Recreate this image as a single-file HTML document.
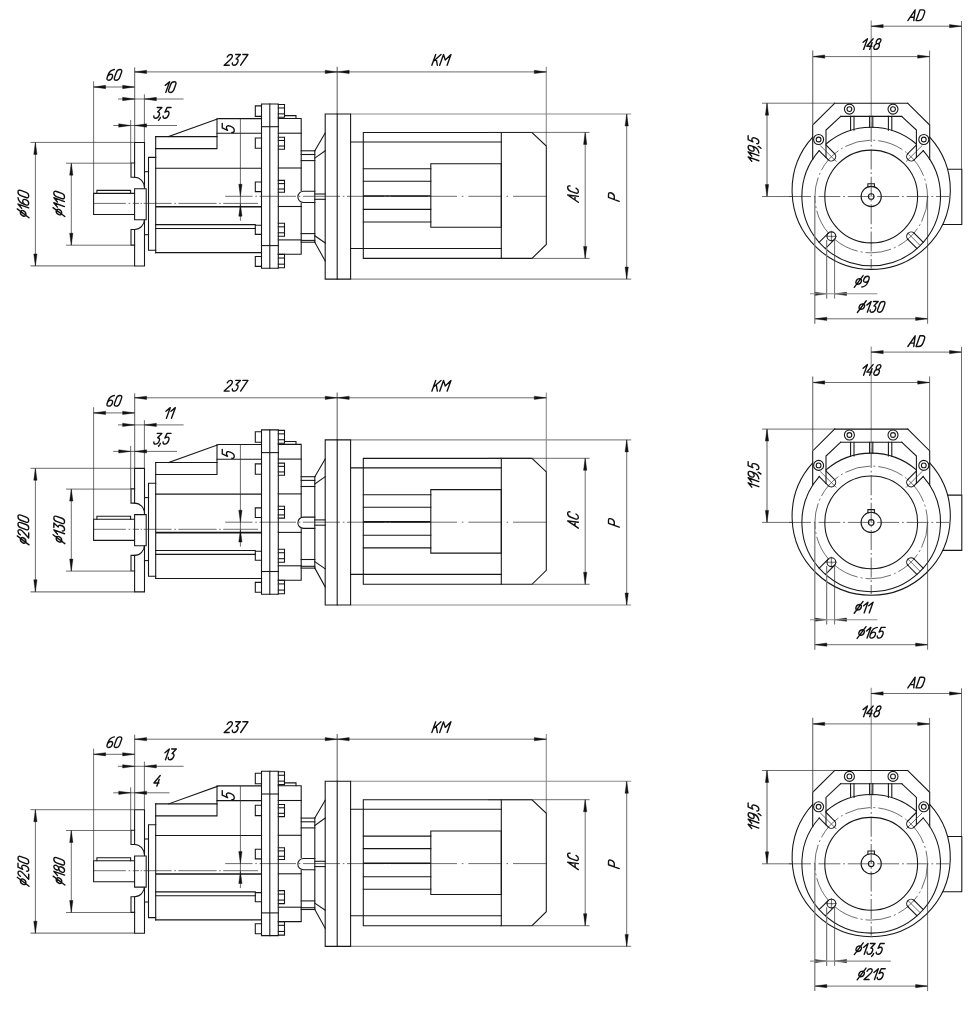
<!DOCTYPE html>
<html><head><meta charset="utf-8"><title>drawing</title>
<style>
html,body{margin:0;padding:0;background:#fff;}
body{width:979px;height:1010px;overflow:hidden;font-family:"Liberation Sans",sans-serif;}
svg{display:block}
.k{fill:none;stroke:#161616;stroke-width:1.08;stroke-linecap:square}
.kk{fill:none;stroke:#161616;stroke-width:1.6}
.kf{fill:#fff;stroke:#161616;stroke-width:1.08}
.t{fill:none;stroke:#2e2e2e;stroke-width:.7}
.g{fill:none;stroke:#7a7a7a;stroke-width:1.25}
.c{fill:none;stroke:#2e2e2e;stroke-width:.7;stroke-dasharray:22 2.8 1.8 2.8}
.cg{fill:none;stroke:#707070;stroke-width:1.1;stroke-dasharray:20 2.8 1.8 2.8}
.g3{fill:none;stroke:#8c8c8c;stroke-width:1.1}
.g2{fill:none;stroke:#8a8a8a;stroke-width:1.1}
.cd{fill:none;stroke:#2e2e2e;stroke-width:.7;stroke-dasharray:26 3 2 3}
.a{fill:#111;stroke:#111;stroke-width:.4}
.ph{fill:none;stroke:#111;stroke-width:1}
.tx path{fill:none;stroke:#101010;stroke-width:1.38;vector-effect:non-scaling-stroke;stroke-linecap:round;stroke-linejoin:round}
</style></head><body>
<svg width="979" height="1010" viewBox="0 0 979 1010">
<rect width="979" height="1010" fill="#fff"/>

<g transform="translate(0,0)">
<path class="g" d="M337.20,66.70L337.20,114.00"/>
<path class="g" d="M134.60,67.40L134.60,142.50"/>
<path class="g3" d="M546.30,66.70L546.30,146.00"/>
<path class="g" d="M30.50,265.90L134.60,265.90"/>
<path class="g3" d="M350.60,114.00L631.20,114.00"/>
<path class="g3" d="M350.60,279.10L631.20,279.10"/>
<path class="k" d="M134.6,193.4H93.6V214.5H134.6"/>
<path class="k" d="M96.9,193.4V190.4H130.6V193.4"/>
<path class="k" d="M134.6,177.2V142.5H144.5V266H134.6V229.5"/>
<path class="k" d="M134.6,163H131V177.2H134.6A10,10.6 0 0 1 144.5,187.8"/>
<path class="k" d="M134.6,245.1H131V229.5H134.6A10,10.6 0 0 0 144.5,218.9"/>
<path class="kf" d="M134.60,188.70H146.20V219.80H134.60Z"/>
<path class="t" d="M93.6,203.4H125.8M128.6,203.4H130.2M132.8,203.4H139M140.6,203.4H142M143.6,203.4H171.6M174.3,203.4H175.9M178.4,203.4H216.5M219.2,203.4H220.8M223.2,203.4H258"/>
<path class="t" d="M225.2,196.3H252.5M255.3,196.3H256.9M259.5,196.3H296M298.8,196.3H300.4M303,196.3H340M342.8,196.3H344.4M347,196.3H384M386.8,196.3H388.4M391,196.3H428M430.8,196.3H457M461.8,196.3H463.4M468.4,196.3H501M506.5,196.3H508.1M513,196.3H546.3"/>
<path class="k" d="M144.50,171.70L148.50,171.70"/>
<path class="k" d="M144.50,234.70L148.50,234.70"/>
<path class="k" d="M155.7,157.4H148.5V250.3H155.7"/>
<path class="k" d="M155.70,136.60L155.70,252.60"/>
<path class="k" d="M155.7,136.6H217"/>
<path class="k" d="M168.6,136.6L218.7,118.6H261.5"/>
<path class="k" d="M217,118.6V148.6H155.7"/>
<path class="k" d="M217.00,133.30L261.50,133.30"/>
<path class="k" d="M155.70,168.20L261.50,168.20"/>
<path class="kk" d="M155.70,206.70L261.50,206.70"/>
<path class="k" d="M155.70,224.60L255.30,224.60"/>
<path class="k" d="M155.70,228.50L255.30,228.50"/>
<path class="k" d="M155.70,252.60L261.50,252.60"/>
<path class="k" d="M261.50,104.00H278.30V268.30H261.50Z"/>
<path class="k" d="M269.80,104.00L269.80,268.30"/>
<path class="k" d="M261.50,126.70L278.30,126.70"/>
<path class="k" d="M261.50,245.60L278.30,245.60"/>
<path class="k" d="M261.5,105.9H255.3V116.4H261.5"/>
<path class="k" d="M261.5,138H255.3V148.3H261.5"/>
<path class="k" d="M261.5,182H255.3V191.6H261.5"/>
<path class="k" d="M261.5,225.3H255.3V234.4H261.5"/>
<path class="k" d="M261.5,256.5H255.3V266.4H261.5"/>
<path class="k" d="M278.3,104.5H284.5V117.3H278.3"/>
<path class="k" d="M278.30,107.96L284.50,107.96"/>
<path class="k" d="M278.30,113.84L284.50,113.84"/>
<path class="k" d="M278.3,137.2H284.5V149.3H278.3"/>
<path class="k" d="M278.30,140.47L284.50,140.47"/>
<path class="k" d="M278.30,146.03L284.50,146.03"/>
<path class="k" d="M278.3,180.4H284.5V192.2H278.3"/>
<path class="k" d="M278.30,183.59L284.50,183.59"/>
<path class="k" d="M278.30,189.01L284.50,189.01"/>
<path class="k" d="M278.3,223.3H284.5V236.3H278.3"/>
<path class="k" d="M278.30,226.81L284.50,226.81"/>
<path class="k" d="M278.30,232.79L284.50,232.79"/>
<path class="k" d="M278.3,254.4H284.5V267.8H278.3"/>
<path class="k" d="M278.30,258.02L284.50,258.02"/>
<path class="k" d="M278.30,264.18L284.50,264.18"/>
<path class="k" d="M278.3,118.5H301.2V190.5"/>
<path class="k" d="M301.2,203V254.3H278.3"/>
<path class="k" d="M284.5,115.6H296V118.5"/>
<path class="k" d="M278.30,133.20L301.20,133.20"/>
<path class="k" d="M278.30,168.00L301.20,168.00"/>
<path class="k" d="M278.30,206.50L301.20,206.50"/>
<path class="k" d="M278.30,239.90L301.20,239.90"/>
<path class="k" d="M301.20,150.80L314.80,150.80"/>
<path class="k" d="M301.20,154.50L314.80,154.50"/>
<path class="k" d="M301.20,160.60L314.80,160.60"/>
<path class="k" d="M301.20,233.60L314.80,233.60"/>
<path class="k" d="M301.20,240.40L314.80,240.40"/>
<path class="k" d="M301.20,242.20L314.80,242.20"/>
<path class="k" d="M314.80,150.80L314.80,242.20"/>
<path class="k" d="M314.8,191.2H303.5A5.65,5.65 0 0 0 303.5,202.5H314.8"/>
<path class="k" d="M314.80,194.00L325.20,194.00"/>
<path class="k" d="M314.80,199.30L325.20,199.30"/>
<path class="k" d="M314.80,150.80L325.20,133.00"/>
<path class="k" d="M314.80,158.10L325.20,150.80"/>
<path class="k" d="M314.80,242.20L325.20,261.00"/>
<path class="k" d="M314.80,235.80L325.20,242.90"/>
<path class="k" d="M325.20,114.00H350.60V279.10H325.20Z"/>
<path class="k" d="M337.20,114.00L337.20,279.10"/>
<path class="k" d="M350.60,142.00L501.30,142.00"/>
<path class="k" d="M350.60,248.50L501.30,248.50"/>
<path class="k" d="M363.30,132.50H501.30V258.40H363.30Z"/>
<path class="k" d="M430.80,163.70H501.30V227.20H430.80Z"/>
<path class="k" d="M363.30,168.80L430.80,168.80"/>
<path class="k" d="M363.30,181.30L430.80,181.30"/>
<path class="k" d="M363.30,209.40L430.80,209.40"/>
<path class="k" d="M363.30,222.00L430.80,222.00"/>
<path class="kk" d="M363.30,196.00L430.80,196.00"/>
<path class="k" d="M501.3,132.5H532L546.3,146V244.4L532,258.4H501.3"/>
<path class="t" d="M134.60,71.90L546.30,71.90"/>
<path class="a" d="M134.60,71.90L146.60,73.55L146.60,70.25Z"/>
<path class="a" d="M337.20,71.90L325.20,70.25L325.20,73.55Z"/>
<path class="a" d="M337.20,71.90L349.20,73.55L349.20,70.25Z"/>
<path class="a" d="M546.30,71.90L534.30,70.25L534.30,73.55Z"/>
<path class="t" d="M93.60,87.00L134.60,87.00"/>
<path class="a" d="M93.60,87.00L105.60,88.65L105.60,85.35Z"/>
<path class="a" d="M134.60,87.00L122.60,85.35L122.60,88.65Z"/>
<path class="t" d="M93.60,81.30L93.60,193.40"/>
<path class="t" d="M118.00,99.00L183.60,99.00"/>
<path class="a" d="M134.60,99.00L122.60,97.35L122.60,100.65Z"/>
<path class="a" d="M144.40,99.00L156.40,100.65L156.40,97.35Z"/>
<path class="t" d="M144.40,94.30L144.40,142.50"/>
<path class="t" d="M35.40,142.40L35.40,265.90"/>
<path class="a" d="M35.40,142.40L33.75,154.40L37.05,154.40Z"/>
<path class="a" d="M35.40,265.90L37.05,253.90L33.75,253.90Z"/>
<path class="t" d="M30.50,142.40L134.60,142.40"/>
<path class="t" d="M71.30,163.20L71.30,245.20"/>
<path class="a" d="M71.30,163.20L69.65,175.20L72.95,175.20Z"/>
<path class="a" d="M71.30,245.20L72.95,233.20L69.65,233.20Z"/>
<path class="t" d="M66.00,163.20L130.80,163.20"/>
<path class="t" d="M66.00,245.20L130.80,245.20"/>
<path class="t" d="M240.40,118.60L240.40,220.80"/>
<path class="a" d="M240.40,196.30L242.05,184.30L238.75,184.30Z"/>
<path class="a" d="M240.40,204.20L238.75,216.20L242.05,216.20Z"/>
<path class="t" d="M585.20,132.40L585.20,258.40"/>
<path class="a" d="M585.20,132.40L583.55,144.40L586.85,144.40Z"/>
<path class="a" d="M585.20,258.40L586.85,246.40L583.55,246.40Z"/>
<path class="t" d="M488.00,132.40L589.60,132.40"/>
<path class="t" d="M532.00,258.40L589.60,258.40"/>
<path class="t" d="M626.70,114.00L626.70,279.10"/>
<path class="a" d="M626.70,114.00L625.05,126.00L628.35,126.00Z"/>
<path class="a" d="M626.70,279.10L628.35,267.10L625.05,267.10Z"/>
<path class="k" d="M940,169.2H961.8V224.5H940"/>
<circle cx="871.2" cy="190.3" r="79.1" fill="#fff" stroke="none"/>
<path class="k" d="M812.70,137.06A79.1,79.1 0 1 0 929.70,137.06"/>
<path class="g2" d="M871.20,20.50L871.20,122.00"/>
<path class="cg" d="M871.20,122.00L871.20,268.50"/>
<path class="t" d="M762.00,196.50L792.00,196.50"/>
<path class="c" d="M789.00,196.50L949.00,196.50"/>
<path class="k" d="M826.00,143.97A69.3,69.3 0 0 1 916.40,143.97"/>
<path class="k" d="M834.50,153.58L826.00,145.08"/>
<path class="k" d="M828.28,159.80L819.19,150.71"/>
<path class="k" d="M834.50,153.58A4.4,4.4 0 0 1 828.28,159.80"/>
<path class="t" d="M836.34,161.64L820.08,145.38"/>
<path class="k" d="M826.00,157.52V130.1L840.60,116.4"/>
<path class="k" d="M812.70,159.35V125L834.70,103.2"/>
<circle class="kf" cx="849.40" cy="109.10" r="5.00"/>
<circle class="k" cx="849.40" cy="109.10" r="2.40"/>
<circle class="kf" cx="818.60" cy="139.50" r="5.00"/>
<circle class="k" cx="818.60" cy="139.50" r="2.40"/>
<path class="k" d="M850.60,116.40L850.60,130.13"/>
<path class="k" d="M854.00,116.40L854.00,130.13"/>
<path class="k" d="M907.90,153.58L916.40,145.08"/>
<path class="k" d="M914.12,159.80L923.21,150.71"/>
<path class="k" d="M907.90,153.58A4.4,4.4 0 0 0 914.12,159.80"/>
<path class="t" d="M906.06,161.64L922.32,145.38"/>
<path class="k" d="M916.40,157.52V130.1L901.80,116.4"/>
<path class="k" d="M929.70,159.35V125L907.70,103.2"/>
<circle class="kf" cx="893.00" cy="109.10" r="5.00"/>
<circle class="k" cx="893.00" cy="109.10" r="2.40"/>
<circle class="kf" cx="923.80" cy="139.50" r="5.00"/>
<circle class="k" cx="923.80" cy="139.50" r="2.40"/>
<path class="k" d="M888.40,116.40L888.40,130.13"/>
<path class="k" d="M891.80,116.40L891.80,130.13"/>
<path class="k" d="M834.70,103.20L907.70,103.20"/>
<path class="k" d="M840.60,116.40L901.80,116.40"/>
<path class="k" d="M869.60,116.40L869.60,127.40"/>
<path class="k" d="M872.80,116.40L872.80,127.40"/>
<path class="k" d="M819.19,150.71A69.3,69.3 0 1 0 923.21,150.71"/>
<circle class="cd" cx="871.20" cy="196.50" r="56.30"/>
<circle class="k" cx="871.20" cy="196.50" r="46.40"/>
<path class="k" d="M867.9,187V183.7H874.4V187"/>
<circle class="k" cx="871.20" cy="196.50" r="10.10"/>
<circle class="k" cx="871.20" cy="196.50" r="2.80"/>
<path class="k" d="M834.50,239.42L825.41,248.51"/>
<path class="k" d="M828.28,233.20L819.19,242.29"/>
<circle class="k" cx="831.39" cy="236.31" r="4.40"/>
<path class="t" d="M825.89,236.31L836.89,236.31"/>
<path class="t" d="M831.39,230.81L831.39,241.81"/>
<path class="k" d="M914.12,233.20L923.21,242.29"/>
<path class="k" d="M907.90,239.42L916.99,248.51"/>
<path class="k" d="M907.90,239.42A4.4,4.4 0 0 1 914.12,233.20"/>
<path class="t" d="M907.47,232.77L920.10,245.40"/>
<path class="t" d="M871.20,26.20L961.50,26.20"/>
<path class="a" d="M871.20,26.20L883.20,27.85L883.20,24.55Z"/>
<path class="a" d="M961.50,26.20L949.50,24.55L949.50,27.85Z"/>
<path class="t" d="M961.50,21.00L961.50,169.20"/>
<path class="t" d="M812.70,56.60L929.60,56.60"/>
<path class="a" d="M812.70,56.60L824.70,58.25L824.70,54.95Z"/>
<path class="a" d="M929.60,56.60L917.60,54.95L917.60,58.25Z"/>
<path class="g" d="M812.70,50.50L812.70,125.00"/>
<path class="t" d="M929.60,50.50L929.60,125.00"/>
<path class="g" d="M767.00,103.20L767.00,196.50"/>
<path class="a" d="M767.00,103.20L765.35,115.20L768.65,115.20Z"/>
<path class="a" d="M767.00,196.50L768.65,184.50L765.35,184.50Z"/>
<path class="t" d="M762.00,103.20L835.00,103.20"/>
<path class="a" d="M826.60,293.80L814.60,292.15L814.60,295.45Z"/>
<path class="a" d="M834.60,293.80L846.60,295.45L846.60,292.15Z"/>
<path class="g" d="M826.60,240.00L826.60,298.60"/>
<path class="t" d="M834.60,238.00L834.60,298.60"/>
<path class="t" d="M814.80,318.80L927.60,318.80"/>
<path class="a" d="M814.80,318.80L826.80,320.45L826.80,317.15Z"/>
<path class="a" d="M927.60,318.80L915.60,317.15L915.60,320.45Z"/>
<path class="g" d="M814.80,196.50L814.80,323.80"/>
<path class="t" d="M927.60,196.50L927.60,323.80"/>
<path class="t" d="M113.20,125.50L177.00,125.50"/>
<path class="a" d="M130.70,125.50L118.70,123.85L118.70,127.15Z"/>
<path class="a" d="M134.60,125.50L146.60,127.15L146.60,123.85Z"/>
<path class="t" d="M130.70,120.00L130.70,163.00"/>
<path class="g3" d="M810.00,293.80L877.40,293.80"/>
<g class="tx" transform="translate(236.05,59.85)"><path transform="matrix(1.0165,0,-0.3852,1.0700,-8.036,-5.350)" d="M0.1,2.3C0.3,0.8 1.2,0 2.5,0C4,0 5,0.9 5,2.4C5,3.5 4.5,4.3 3.8,5.1L0,10H5"/><path transform="matrix(1.0165,0,-0.3852,1.0700,-0.615,-5.350)" d="M0.3,0H4.9L2.3,4.1C4,4.1 5,5.2 5,7C5,8.9 4,10 2.5,10C1.1,10 0.2,9.2 0,7.9"/><path transform="matrix(1.0165,0,-0.3852,1.0700,6.805,-5.350)" d="M0,0H5L1.6,10"/></g>
<g class="tx" transform="translate(441.41,59.90)"><path transform="matrix(1.0165,0,-0.3852,1.0700,-5.698,-5.350)" d="M0,0V10M5.2,0L0,6.4M2,4L5.4,10"/><path transform="matrix(1.0165,0,-0.3852,1.0700,2.129,-5.350)" d="M0,10V0L3.65,5.2L7.3,0V10"/></g>
<g class="tx" transform="translate(114.34,74.90)"><path transform="matrix(1.0165,0,-0.3852,1.0700,-4.325,-5.350)" d="M4.3,0C1.8,0.4 0,2.2 0,4.8V7.2C0,9 0.9,10 2.5,10C4.1,10 5,9 5,7.2C5,5.4 4.1,4.4 2.5,4.4C1.3,4.4 0.4,5.1 0,6.2"/><path transform="matrix(1.0165,0,-0.3852,1.0700,3.095,-5.350)" d="M2.5,0C0.9,0 0,0.9 0,2.5V7.5C0,9.1 0.9,10 2.5,10C4.1,10 5,9.1 5,7.5V2.5C5,0.9 4.1,0 2.5,0Z"/></g>
<g class="tx" transform="translate(169.72,87.10)"><path transform="matrix(1.0165,0,-0.3852,1.0700,-3.157,-5.350)" d="M0,3.4L3,0V10"/><path transform="matrix(1.0165,0,-0.3852,1.0700,1.926,-5.350)" d="M2.5,0C0.9,0 0,0.9 0,2.5V7.5C0,9.1 0.9,10 2.5,10C4.1,10 5,9.1 5,7.5V2.5C5,0.9 4.1,0 2.5,0Z"/></g>
<g class="tx" transform="translate(162.15,112.84)"><path transform="matrix(1.0165,0,-0.3852,1.0700,-5.240,-5.350)" d="M0.3,0H4.9L2.3,4.1C4,4.1 5,5.2 5,7C5,8.9 4,10 2.5,10C1.1,10 0.2,9.2 0,7.9"/><path transform="matrix(1.0165,0,-0.3852,1.0700,0.859,-5.350)" d="M0.9,9.3V10.2L0.1,12"/><path transform="matrix(1.0165,0,-0.3852,1.0700,4.010,-5.350)" d="M4.8,0H0.9L0.4,4.4C1,3.8 1.8,3.5 2.6,3.5C4.1,3.5 5,4.8 5,6.7C5,8.7 4,10 2.5,10C1.1,10 0.2,9.2 0,8"/></g>
<g class="tx" transform="translate(228.25,128.25) rotate(-90)"><path transform="matrix(1.1385,0,-0.4314,1.1984,-0.689,-5.992)" d="M4.8,0H0.9L0.4,4.4C1,3.8 1.8,3.5 2.6,3.5C4.1,3.5 5,4.8 5,6.7C5,8.7 4,10 2.5,10C1.1,10 0.2,9.2 0,8"/></g>
<g class="tx" transform="translate(23.35,203.94) rotate(-90)"><path transform="matrix(1.0165,0,-0.3852,1.0700,-10.577,-5.350)" d="M5.55,4.8A2.6,2.6 0 1 1 0.35,4.8A2.6,2.6 0 1 1 5.55,4.8M0.65,10.3L5.25,-0.7"/><path transform="matrix(1.0165,0,-0.3852,1.0700,-3.156,-5.350)" d="M0,3.4L3,0V10"/><path transform="matrix(1.0165,0,-0.3852,1.0700,1.926,-5.350)" d="M4.3,0C1.8,0.4 0,2.2 0,4.8V7.2C0,9 0.9,10 2.5,10C4.1,10 5,9 5,7.2C5,5.4 4.1,4.4 2.5,4.4C1.3,4.4 0.4,5.1 0,6.2"/><path transform="matrix(1.0165,0,-0.3852,1.0700,9.346,-5.350)" d="M2.5,0C0.9,0 0,0.9 0,2.5V7.5C0,9.1 0.9,10 2.5,10C4.1,10 5,9.1 5,7.5V2.5C5,0.9 4.1,0 2.5,0Z"/></g>
<g class="tx" transform="translate(59.14,203.82) rotate(-90)"><path transform="matrix(1.0165,0,-0.3852,1.0700,-9.408,-5.350)" d="M5.55,4.8A2.6,2.6 0 1 1 0.35,4.8A2.6,2.6 0 1 1 5.55,4.8M0.65,10.3L5.25,-0.7"/><path transform="matrix(1.0165,0,-0.3852,1.0700,-1.988,-5.350)" d="M0,3.4L3,0V10"/><path transform="matrix(1.0165,0,-0.3852,1.0700,3.095,-5.350)" d="M0,3.4L3,0V10"/><path transform="matrix(1.0165,0,-0.3852,1.0700,8.177,-5.350)" d="M2.5,0C0.9,0 0,0.9 0,2.5V7.5C0,9.1 0.9,10 2.5,10C4.1,10 5,9.1 5,7.5V2.5C5,0.9 4.1,0 2.5,0Z"/></g>
<g class="tx" transform="translate(573.00,193.68) rotate(-90)"><path transform="matrix(1.0165,0,-0.3852,1.0700,-4.732,-5.350)" d="M0,10L3.4,0L5.8,10M1.1,6.9H5.0"/><path transform="matrix(1.0165,0,-0.3852,1.0700,3.502,-5.350)" d="M5,2.2C4.8,0.8 3.9,0 2.6,0C0.9,0 0,1.2 0,3V7C0,8.8 0.9,10 2.6,10C3.9,10 4.8,9.2 5,7.8"/></g>
<g class="tx" transform="translate(613.85,196.62) rotate(-90)"><path transform="matrix(1.0165,0,-0.3852,1.0700,-0.819,-5.350)" d="M0,10V0H3C4.6,0 5.4,1 5.4,2.7C5.4,4.4 4.6,5.4 3,5.4H0"/></g>
<g class="tx" transform="translate(916.74,15.25)"><path transform="matrix(1.0165,0,-0.3852,1.0700,-5.037,-5.350)" d="M0,10L3.4,0L5.8,10M1.1,6.9H5.0"/><path transform="matrix(1.0165,0,-0.3852,1.0700,3.197,-5.350)" d="M0,0V10H2.6C4.5,10 5.6,8.8 5.6,7V3C5.6,1.2 4.5,0 2.6,0Z"/></g>
<g class="tx" transform="translate(871.26,44.05)"><path transform="matrix(1.0165,0,-0.3852,1.0700,-6.867,-5.350)" d="M0,3.4L3,0V10"/><path transform="matrix(1.0165,0,-0.3852,1.0700,-1.784,-5.350)" d="M3.6,0L0,7H5M4,3.8V10"/><path transform="matrix(1.0165,0,-0.3852,1.0700,5.636,-5.350)" d="M2.5,4.6C1.1,4.6 0.4,3.7 0.4,2.3C0.4,0.9 1.2,0 2.5,0C3.8,0 4.6,0.9 4.6,2.3C4.6,3.7 3.9,4.6 2.5,4.6C0.9,4.6 0,5.7 0,7.3C0,8.9 0.9,10 2.5,10C4.1,10 5,8.9 5,7.3C5,5.7 4.1,4.6 2.5,4.6"/></g>
<g class="tx" transform="translate(753.49,149.64) rotate(-90)"><path transform="matrix(1.0165,0,-0.3852,1.0700,-10.323,-5.350)" d="M0,3.4L3,0V10"/><path transform="matrix(1.0165,0,-0.3852,1.0700,-5.240,-5.350)" d="M0,3.4L3,0V10"/><path transform="matrix(1.0165,0,-0.3852,1.0700,-0.158,-5.350)" d="M0.7,10C3.2,9.6 5,7.8 5,5.2V2.8C5,1 4.1,0 2.5,0C0.9,0 0,1 0,2.8C0,4.6 0.9,5.6 2.5,5.6C3.7,5.6 4.6,4.9 5,3.8"/><path transform="matrix(1.0165,0,-0.3852,1.0700,5.941,-5.350)" d="M0.9,9.3V10.2L0.1,12"/><path transform="matrix(1.0165,0,-0.3852,1.0700,9.092,-5.350)" d="M4.8,0H0.9L0.4,4.4C1,3.8 1.8,3.5 2.6,3.5C4.1,3.5 5,4.8 5,6.7C5,8.7 4,10 2.5,10C1.1,10 0.2,9.2 0,8"/></g>
<g class="tx" transform="translate(861.85,281.65)"><path transform="matrix(1.0165,0,-0.3852,1.0700,-4.325,-5.350)" d="M5.55,4.8A2.6,2.6 0 1 1 0.35,4.8A2.6,2.6 0 1 1 5.55,4.8M0.65,10.3L5.25,-0.7"/><path transform="matrix(1.0165,0,-0.3852,1.0700,3.095,-5.350)" d="M0.7,10C3.2,9.6 5,7.8 5,5.2V2.8C5,1 4.1,0 2.5,0C0.9,0 0,1 0,2.8C0,4.6 0.9,5.6 2.5,5.6C3.7,5.6 4.6,4.9 5,3.8"/></g>
<g class="tx" transform="translate(871.26,306.85)"><path transform="matrix(1.0165,0,-0.3852,1.0700,-10.577,-5.350)" d="M5.55,4.8A2.6,2.6 0 1 1 0.35,4.8A2.6,2.6 0 1 1 5.55,4.8M0.65,10.3L5.25,-0.7"/><path transform="matrix(1.0165,0,-0.3852,1.0700,-3.156,-5.350)" d="M0,3.4L3,0V10"/><path transform="matrix(1.0165,0,-0.3852,1.0700,1.926,-5.350)" d="M0.3,0H4.9L2.3,4.1C4,4.1 5,5.2 5,7C5,8.9 4,10 2.5,10C1.1,10 0.2,9.2 0,7.9"/><path transform="matrix(1.0165,0,-0.3852,1.0700,9.346,-5.350)" d="M2.5,0C0.9,0 0,0.9 0,2.5V7.5C0,9.1 0.9,10 2.5,10C4.1,10 5,9.1 5,7.5V2.5C5,0.9 4.1,0 2.5,0Z"/></g>
</g>
<g transform="translate(0,325.9)">
<path class="g" d="M337.20,66.70L337.20,114.00"/>
<path class="g" d="M134.60,67.40L134.60,142.50"/>
<path class="g3" d="M546.30,66.70L546.30,146.00"/>
<path class="g" d="M30.50,265.90L134.60,265.90"/>
<path class="g3" d="M350.60,114.00L631.20,114.00"/>
<path class="g3" d="M350.60,279.10L631.20,279.10"/>
<path class="k" d="M134.6,193.4H93.6V214.5H134.6"/>
<path class="k" d="M96.9,193.4V190.4H130.6V193.4"/>
<path class="k" d="M134.6,177.2V142.5H144.5V266H134.6V229.5"/>
<path class="k" d="M134.6,163H131V177.2H134.6A10,10.6 0 0 1 144.5,187.8"/>
<path class="k" d="M134.6,245.1H131V229.5H134.6A10,10.6 0 0 0 144.5,218.9"/>
<path class="kf" d="M134.60,188.70H146.20V219.80H134.60Z"/>
<path class="t" d="M93.6,203.4H125.8M128.6,203.4H130.2M132.8,203.4H139M140.6,203.4H142M143.6,203.4H171.6M174.3,203.4H175.9M178.4,203.4H216.5M219.2,203.4H220.8M223.2,203.4H258"/>
<path class="t" d="M225.2,196.3H252.5M255.3,196.3H256.9M259.5,196.3H296M298.8,196.3H300.4M303,196.3H340M342.8,196.3H344.4M347,196.3H384M386.8,196.3H388.4M391,196.3H428M430.8,196.3H457M461.8,196.3H463.4M468.4,196.3H501M506.5,196.3H508.1M513,196.3H546.3"/>
<path class="k" d="M144.50,171.70L148.50,171.70"/>
<path class="k" d="M144.50,234.70L148.50,234.70"/>
<path class="k" d="M155.7,157.4H148.5V250.3H155.7"/>
<path class="k" d="M155.70,136.60L155.70,252.60"/>
<path class="k" d="M155.7,136.6H217"/>
<path class="k" d="M168.6,136.6L218.7,118.6H261.5"/>
<path class="k" d="M217,118.6V148.6H155.7"/>
<path class="k" d="M217.00,133.30L261.50,133.30"/>
<path class="k" d="M155.70,168.20L261.50,168.20"/>
<path class="kk" d="M155.70,206.70L261.50,206.70"/>
<path class="k" d="M155.70,224.60L255.30,224.60"/>
<path class="k" d="M155.70,228.50L255.30,228.50"/>
<path class="k" d="M155.70,252.60L261.50,252.60"/>
<path class="k" d="M261.50,104.00H278.30V268.30H261.50Z"/>
<path class="k" d="M269.80,104.00L269.80,268.30"/>
<path class="k" d="M261.50,126.70L278.30,126.70"/>
<path class="k" d="M261.50,245.60L278.30,245.60"/>
<path class="k" d="M261.5,105.9H255.3V116.4H261.5"/>
<path class="k" d="M261.5,138H255.3V148.3H261.5"/>
<path class="k" d="M261.5,182H255.3V191.6H261.5"/>
<path class="k" d="M261.5,225.3H255.3V234.4H261.5"/>
<path class="k" d="M261.5,256.5H255.3V266.4H261.5"/>
<path class="k" d="M278.3,104.5H284.5V117.3H278.3"/>
<path class="k" d="M278.30,107.96L284.50,107.96"/>
<path class="k" d="M278.30,113.84L284.50,113.84"/>
<path class="k" d="M278.3,137.2H284.5V149.3H278.3"/>
<path class="k" d="M278.30,140.47L284.50,140.47"/>
<path class="k" d="M278.30,146.03L284.50,146.03"/>
<path class="k" d="M278.3,180.4H284.5V192.2H278.3"/>
<path class="k" d="M278.30,183.59L284.50,183.59"/>
<path class="k" d="M278.30,189.01L284.50,189.01"/>
<path class="k" d="M278.3,223.3H284.5V236.3H278.3"/>
<path class="k" d="M278.30,226.81L284.50,226.81"/>
<path class="k" d="M278.30,232.79L284.50,232.79"/>
<path class="k" d="M278.3,254.4H284.5V267.8H278.3"/>
<path class="k" d="M278.30,258.02L284.50,258.02"/>
<path class="k" d="M278.30,264.18L284.50,264.18"/>
<path class="k" d="M278.3,118.5H301.2V190.5"/>
<path class="k" d="M301.2,203V254.3H278.3"/>
<path class="k" d="M284.5,115.6H296V118.5"/>
<path class="k" d="M278.30,133.20L301.20,133.20"/>
<path class="k" d="M278.30,168.00L301.20,168.00"/>
<path class="k" d="M278.30,206.50L301.20,206.50"/>
<path class="k" d="M278.30,239.90L301.20,239.90"/>
<path class="k" d="M301.20,150.80L314.80,150.80"/>
<path class="k" d="M301.20,154.50L314.80,154.50"/>
<path class="k" d="M301.20,160.60L314.80,160.60"/>
<path class="k" d="M301.20,233.60L314.80,233.60"/>
<path class="k" d="M301.20,240.40L314.80,240.40"/>
<path class="k" d="M301.20,242.20L314.80,242.20"/>
<path class="k" d="M314.80,150.80L314.80,242.20"/>
<path class="k" d="M314.8,191.2H303.5A5.65,5.65 0 0 0 303.5,202.5H314.8"/>
<path class="k" d="M314.80,194.00L325.20,194.00"/>
<path class="k" d="M314.80,199.30L325.20,199.30"/>
<path class="k" d="M314.80,150.80L325.20,133.00"/>
<path class="k" d="M314.80,158.10L325.20,150.80"/>
<path class="k" d="M314.80,242.20L325.20,261.00"/>
<path class="k" d="M314.80,235.80L325.20,242.90"/>
<path class="k" d="M325.20,114.00H350.60V279.10H325.20Z"/>
<path class="k" d="M337.20,114.00L337.20,279.10"/>
<path class="k" d="M350.60,142.00L501.30,142.00"/>
<path class="k" d="M350.60,248.50L501.30,248.50"/>
<path class="k" d="M363.30,132.50H501.30V258.40H363.30Z"/>
<path class="k" d="M430.80,163.70H501.30V227.20H430.80Z"/>
<path class="k" d="M363.30,168.80L430.80,168.80"/>
<path class="k" d="M363.30,181.30L430.80,181.30"/>
<path class="k" d="M363.30,209.40L430.80,209.40"/>
<path class="k" d="M363.30,222.00L430.80,222.00"/>
<path class="kk" d="M363.30,196.00L430.80,196.00"/>
<path class="k" d="M501.3,132.5H532L546.3,146V244.4L532,258.4H501.3"/>
<path class="t" d="M134.60,71.90L546.30,71.90"/>
<path class="a" d="M134.60,71.90L146.60,73.55L146.60,70.25Z"/>
<path class="a" d="M337.20,71.90L325.20,70.25L325.20,73.55Z"/>
<path class="a" d="M337.20,71.90L349.20,73.55L349.20,70.25Z"/>
<path class="a" d="M546.30,71.90L534.30,70.25L534.30,73.55Z"/>
<path class="t" d="M93.60,87.00L134.60,87.00"/>
<path class="a" d="M93.60,87.00L105.60,88.65L105.60,85.35Z"/>
<path class="a" d="M134.60,87.00L122.60,85.35L122.60,88.65Z"/>
<path class="t" d="M93.60,81.30L93.60,193.40"/>
<path class="t" d="M118.00,99.00L183.60,99.00"/>
<path class="a" d="M134.60,99.00L122.60,97.35L122.60,100.65Z"/>
<path class="a" d="M144.40,99.00L156.40,100.65L156.40,97.35Z"/>
<path class="t" d="M144.40,94.30L144.40,142.50"/>
<path class="t" d="M35.40,142.40L35.40,265.90"/>
<path class="a" d="M35.40,142.40L33.75,154.40L37.05,154.40Z"/>
<path class="a" d="M35.40,265.90L37.05,253.90L33.75,253.90Z"/>
<path class="t" d="M30.50,142.40L134.60,142.40"/>
<path class="t" d="M71.30,163.20L71.30,245.20"/>
<path class="a" d="M71.30,163.20L69.65,175.20L72.95,175.20Z"/>
<path class="a" d="M71.30,245.20L72.95,233.20L69.65,233.20Z"/>
<path class="t" d="M66.00,163.20L130.80,163.20"/>
<path class="t" d="M66.00,245.20L130.80,245.20"/>
<path class="t" d="M240.40,118.60L240.40,220.80"/>
<path class="a" d="M240.40,196.30L242.05,184.30L238.75,184.30Z"/>
<path class="a" d="M240.40,204.20L238.75,216.20L242.05,216.20Z"/>
<path class="t" d="M585.20,132.40L585.20,258.40"/>
<path class="a" d="M585.20,132.40L583.55,144.40L586.85,144.40Z"/>
<path class="a" d="M585.20,258.40L586.85,246.40L583.55,246.40Z"/>
<path class="t" d="M488.00,132.40L589.60,132.40"/>
<path class="t" d="M532.00,258.40L589.60,258.40"/>
<path class="t" d="M626.70,114.00L626.70,279.10"/>
<path class="a" d="M626.70,114.00L625.05,126.00L628.35,126.00Z"/>
<path class="a" d="M626.70,279.10L628.35,267.10L625.05,267.10Z"/>
<path class="k" d="M940,169.2H961.8V224.5H940"/>
<circle cx="871.2" cy="190.3" r="79.1" fill="#fff" stroke="none"/>
<path class="k" d="M812.70,137.06A79.1,79.1 0 1 0 929.70,137.06"/>
<path class="g2" d="M871.20,20.50L871.20,122.00"/>
<path class="cg" d="M871.20,122.00L871.20,268.50"/>
<path class="t" d="M762.00,196.50L792.00,196.50"/>
<path class="c" d="M789.00,196.50L949.00,196.50"/>
<path class="k" d="M826.00,143.97A69.3,69.3 0 0 1 916.40,143.97"/>
<path class="k" d="M834.50,153.58L826.00,145.08"/>
<path class="k" d="M828.28,159.80L819.19,150.71"/>
<path class="k" d="M834.50,153.58A4.4,4.4 0 0 1 828.28,159.80"/>
<path class="t" d="M836.34,161.64L820.08,145.38"/>
<path class="k" d="M826.00,157.52V130.1L840.60,116.4"/>
<path class="k" d="M812.70,159.35V125L834.70,103.2"/>
<circle class="kf" cx="849.40" cy="109.10" r="5.00"/>
<circle class="k" cx="849.40" cy="109.10" r="2.40"/>
<circle class="kf" cx="818.60" cy="139.50" r="5.00"/>
<circle class="k" cx="818.60" cy="139.50" r="2.40"/>
<path class="k" d="M850.60,116.40L850.60,130.13"/>
<path class="k" d="M854.00,116.40L854.00,130.13"/>
<path class="k" d="M907.90,153.58L916.40,145.08"/>
<path class="k" d="M914.12,159.80L923.21,150.71"/>
<path class="k" d="M907.90,153.58A4.4,4.4 0 0 0 914.12,159.80"/>
<path class="t" d="M906.06,161.64L922.32,145.38"/>
<path class="k" d="M916.40,157.52V130.1L901.80,116.4"/>
<path class="k" d="M929.70,159.35V125L907.70,103.2"/>
<circle class="kf" cx="893.00" cy="109.10" r="5.00"/>
<circle class="k" cx="893.00" cy="109.10" r="2.40"/>
<circle class="kf" cx="923.80" cy="139.50" r="5.00"/>
<circle class="k" cx="923.80" cy="139.50" r="2.40"/>
<path class="k" d="M888.40,116.40L888.40,130.13"/>
<path class="k" d="M891.80,116.40L891.80,130.13"/>
<path class="k" d="M834.70,103.20L907.70,103.20"/>
<path class="k" d="M840.60,116.40L901.80,116.40"/>
<path class="k" d="M869.60,116.40L869.60,127.40"/>
<path class="k" d="M872.80,116.40L872.80,127.40"/>
<path class="k" d="M819.19,150.71A69.3,69.3 0 1 0 923.21,150.71"/>
<circle class="cd" cx="871.20" cy="196.50" r="56.30"/>
<circle class="k" cx="871.20" cy="196.50" r="46.40"/>
<path class="k" d="M867.9,187V183.7H874.4V187"/>
<circle class="k" cx="871.20" cy="196.50" r="10.10"/>
<circle class="k" cx="871.20" cy="196.50" r="2.80"/>
<path class="k" d="M834.50,239.42L825.41,248.51"/>
<path class="k" d="M828.28,233.20L819.19,242.29"/>
<circle class="k" cx="831.39" cy="236.31" r="4.40"/>
<path class="t" d="M825.89,236.31L836.89,236.31"/>
<path class="t" d="M831.39,230.81L831.39,241.81"/>
<path class="k" d="M914.12,233.20L923.21,242.29"/>
<path class="k" d="M907.90,239.42L916.99,248.51"/>
<path class="k" d="M907.90,239.42A4.4,4.4 0 0 1 914.12,233.20"/>
<path class="t" d="M907.47,232.77L920.10,245.40"/>
<path class="t" d="M871.20,26.20L961.50,26.20"/>
<path class="a" d="M871.20,26.20L883.20,27.85L883.20,24.55Z"/>
<path class="a" d="M961.50,26.20L949.50,24.55L949.50,27.85Z"/>
<path class="t" d="M961.50,21.00L961.50,169.20"/>
<path class="t" d="M812.70,56.60L929.60,56.60"/>
<path class="a" d="M812.70,56.60L824.70,58.25L824.70,54.95Z"/>
<path class="a" d="M929.60,56.60L917.60,54.95L917.60,58.25Z"/>
<path class="g" d="M812.70,50.50L812.70,125.00"/>
<path class="t" d="M929.60,50.50L929.60,125.00"/>
<path class="g" d="M767.00,103.20L767.00,196.50"/>
<path class="a" d="M767.00,103.20L765.35,115.20L768.65,115.20Z"/>
<path class="a" d="M767.00,196.50L768.65,184.50L765.35,184.50Z"/>
<path class="t" d="M762.00,103.20L835.00,103.20"/>
<path class="a" d="M826.60,293.80L814.60,292.15L814.60,295.45Z"/>
<path class="a" d="M834.60,293.80L846.60,295.45L846.60,292.15Z"/>
<path class="g" d="M826.60,240.00L826.60,298.60"/>
<path class="t" d="M834.60,238.00L834.60,298.60"/>
<path class="t" d="M814.80,318.80L927.60,318.80"/>
<path class="a" d="M814.80,318.80L826.80,320.45L826.80,317.15Z"/>
<path class="a" d="M927.60,318.80L915.60,317.15L915.60,320.45Z"/>
<path class="g" d="M814.80,196.50L814.80,323.80"/>
<path class="t" d="M927.60,196.50L927.60,323.80"/>
<path class="t" d="M113.20,125.50L177.00,125.50"/>
<path class="a" d="M130.70,125.50L118.70,123.85L118.70,127.15Z"/>
<path class="a" d="M134.60,125.50L146.60,127.15L146.60,123.85Z"/>
<path class="t" d="M130.70,120.00L130.70,163.00"/>
<path class="g3" d="M810.00,293.80L877.40,293.80"/>
<g class="tx" transform="translate(236.05,59.85)"><path transform="matrix(1.0165,0,-0.3852,1.0700,-8.036,-5.350)" d="M0.1,2.3C0.3,0.8 1.2,0 2.5,0C4,0 5,0.9 5,2.4C5,3.5 4.5,4.3 3.8,5.1L0,10H5"/><path transform="matrix(1.0165,0,-0.3852,1.0700,-0.615,-5.350)" d="M0.3,0H4.9L2.3,4.1C4,4.1 5,5.2 5,7C5,8.9 4,10 2.5,10C1.1,10 0.2,9.2 0,7.9"/><path transform="matrix(1.0165,0,-0.3852,1.0700,6.805,-5.350)" d="M0,0H5L1.6,10"/></g>
<g class="tx" transform="translate(441.41,59.90)"><path transform="matrix(1.0165,0,-0.3852,1.0700,-5.698,-5.350)" d="M0,0V10M5.2,0L0,6.4M2,4L5.4,10"/><path transform="matrix(1.0165,0,-0.3852,1.0700,2.129,-5.350)" d="M0,10V0L3.65,5.2L7.3,0V10"/></g>
<g class="tx" transform="translate(114.34,74.90)"><path transform="matrix(1.0165,0,-0.3852,1.0700,-4.325,-5.350)" d="M4.3,0C1.8,0.4 0,2.2 0,4.8V7.2C0,9 0.9,10 2.5,10C4.1,10 5,9 5,7.2C5,5.4 4.1,4.4 2.5,4.4C1.3,4.4 0.4,5.1 0,6.2"/><path transform="matrix(1.0165,0,-0.3852,1.0700,3.095,-5.350)" d="M2.5,0C0.9,0 0,0.9 0,2.5V7.5C0,9.1 0.9,10 2.5,10C4.1,10 5,9.1 5,7.5V2.5C5,0.9 4.1,0 2.5,0Z"/></g>
<g class="tx" transform="translate(169.35,87.10)"><path transform="matrix(1.0165,0,-0.3852,1.0700,-2.140,-5.350)" d="M0,3.4L3,0V10"/><path transform="matrix(1.0165,0,-0.3852,1.0700,2.942,-5.350)" d="M0,3.4L3,0V10"/></g>
<g class="tx" transform="translate(162.15,112.84)"><path transform="matrix(1.0165,0,-0.3852,1.0700,-5.240,-5.350)" d="M0.3,0H4.9L2.3,4.1C4,4.1 5,5.2 5,7C5,8.9 4,10 2.5,10C1.1,10 0.2,9.2 0,7.9"/><path transform="matrix(1.0165,0,-0.3852,1.0700,0.859,-5.350)" d="M0.9,9.3V10.2L0.1,12"/><path transform="matrix(1.0165,0,-0.3852,1.0700,4.010,-5.350)" d="M4.8,0H0.9L0.4,4.4C1,3.8 1.8,3.5 2.6,3.5C4.1,3.5 5,4.8 5,6.7C5,8.7 4,10 2.5,10C1.1,10 0.2,9.2 0,8"/></g>
<g class="tx" transform="translate(228.25,128.25) rotate(-90)"><path transform="matrix(1.1385,0,-0.4314,1.1984,-0.689,-5.992)" d="M4.8,0H0.9L0.4,4.4C1,3.8 1.8,3.5 2.6,3.5C4.1,3.5 5,4.8 5,6.7C5,8.7 4,10 2.5,10C1.1,10 0.2,9.2 0,8"/></g>
<g class="tx" transform="translate(23.35,203.88) rotate(-90)"><path transform="matrix(1.0165,0,-0.3852,1.0700,-11.746,-5.350)" d="M5.55,4.8A2.6,2.6 0 1 1 0.35,4.8A2.6,2.6 0 1 1 5.55,4.8M0.65,10.3L5.25,-0.7"/><path transform="matrix(1.0165,0,-0.3852,1.0700,-4.325,-5.350)" d="M0.1,2.3C0.3,0.8 1.2,0 2.5,0C4,0 5,0.9 5,2.4C5,3.5 4.5,4.3 3.8,5.1L0,10H5"/><path transform="matrix(1.0165,0,-0.3852,1.0700,3.095,-5.350)" d="M2.5,0C0.9,0 0,0.9 0,2.5V7.5C0,9.1 0.9,10 2.5,10C4.1,10 5,9.1 5,7.5V2.5C5,0.9 4.1,0 2.5,0Z"/><path transform="matrix(1.0165,0,-0.3852,1.0700,10.515,-5.350)" d="M2.5,0C0.9,0 0,0.9 0,2.5V7.5C0,9.1 0.9,10 2.5,10C4.1,10 5,9.1 5,7.5V2.5C5,0.9 4.1,0 2.5,0Z"/></g>
<g class="tx" transform="translate(59.20,203.89) rotate(-90)"><path transform="matrix(1.0165,0,-0.3852,1.0700,-10.577,-5.350)" d="M5.55,4.8A2.6,2.6 0 1 1 0.35,4.8A2.6,2.6 0 1 1 5.55,4.8M0.65,10.3L5.25,-0.7"/><path transform="matrix(1.0165,0,-0.3852,1.0700,-3.156,-5.350)" d="M0,3.4L3,0V10"/><path transform="matrix(1.0165,0,-0.3852,1.0700,1.926,-5.350)" d="M0.3,0H4.9L2.3,4.1C4,4.1 5,5.2 5,7C5,8.9 4,10 2.5,10C1.1,10 0.2,9.2 0,7.9"/><path transform="matrix(1.0165,0,-0.3852,1.0700,9.346,-5.350)" d="M2.5,0C0.9,0 0,0.9 0,2.5V7.5C0,9.1 0.9,10 2.5,10C4.1,10 5,9.1 5,7.5V2.5C5,0.9 4.1,0 2.5,0Z"/></g>
<g class="tx" transform="translate(573.00,193.68) rotate(-90)"><path transform="matrix(1.0165,0,-0.3852,1.0700,-4.732,-5.350)" d="M0,10L3.4,0L5.8,10M1.1,6.9H5.0"/><path transform="matrix(1.0165,0,-0.3852,1.0700,3.502,-5.350)" d="M5,2.2C4.8,0.8 3.9,0 2.6,0C0.9,0 0,1.2 0,3V7C0,8.8 0.9,10 2.6,10C3.9,10 4.8,9.2 5,7.8"/></g>
<g class="tx" transform="translate(613.85,196.62) rotate(-90)"><path transform="matrix(1.0165,0,-0.3852,1.0700,-0.819,-5.350)" d="M0,10V0H3C4.6,0 5.4,1 5.4,2.7C5.4,4.4 4.6,5.4 3,5.4H0"/></g>
<g class="tx" transform="translate(916.74,15.25)"><path transform="matrix(1.0165,0,-0.3852,1.0700,-5.037,-5.350)" d="M0,10L3.4,0L5.8,10M1.1,6.9H5.0"/><path transform="matrix(1.0165,0,-0.3852,1.0700,3.197,-5.350)" d="M0,0V10H2.6C4.5,10 5.6,8.8 5.6,7V3C5.6,1.2 4.5,0 2.6,0Z"/></g>
<g class="tx" transform="translate(871.26,44.05)"><path transform="matrix(1.0165,0,-0.3852,1.0700,-6.867,-5.350)" d="M0,3.4L3,0V10"/><path transform="matrix(1.0165,0,-0.3852,1.0700,-1.784,-5.350)" d="M3.6,0L0,7H5M4,3.8V10"/><path transform="matrix(1.0165,0,-0.3852,1.0700,5.636,-5.350)" d="M2.5,4.6C1.1,4.6 0.4,3.7 0.4,2.3C0.4,0.9 1.2,0 2.5,0C3.8,0 4.6,0.9 4.6,2.3C4.6,3.7 3.9,4.6 2.5,4.6C0.9,4.6 0,5.7 0,7.3C0,8.9 0.9,10 2.5,10C4.1,10 5,8.9 5,7.3C5,5.7 4.1,4.6 2.5,4.6"/></g>
<g class="tx" transform="translate(753.49,149.64) rotate(-90)"><path transform="matrix(1.0165,0,-0.3852,1.0700,-10.323,-5.350)" d="M0,3.4L3,0V10"/><path transform="matrix(1.0165,0,-0.3852,1.0700,-5.240,-5.350)" d="M0,3.4L3,0V10"/><path transform="matrix(1.0165,0,-0.3852,1.0700,-0.158,-5.350)" d="M0.7,10C3.2,9.6 5,7.8 5,5.2V2.8C5,1 4.1,0 2.5,0C0.9,0 0,1 0,2.8C0,4.6 0.9,5.6 2.5,5.6C3.7,5.6 4.6,4.9 5,3.8"/><path transform="matrix(1.0165,0,-0.3852,1.0700,5.941,-5.350)" d="M0.9,9.3V10.2L0.1,12"/><path transform="matrix(1.0165,0,-0.3852,1.0700,9.092,-5.350)" d="M4.8,0H0.9L0.4,4.4C1,3.8 1.8,3.5 2.6,3.5C4.1,3.5 5,4.8 5,6.7C5,8.7 4,10 2.5,10C1.1,10 0.2,9.2 0,8"/></g>
<g class="tx" transform="translate(863.35,281.65)"><path transform="matrix(1.0165,0,-0.3852,1.0700,-5.850,-5.350)" d="M5.55,4.8A2.6,2.6 0 1 1 0.35,4.8A2.6,2.6 0 1 1 5.55,4.8M0.65,10.3L5.25,-0.7"/><path transform="matrix(1.0165,0,-0.3852,1.0700,1.570,-5.350)" d="M0,3.4L3,0V10"/><path transform="matrix(1.0165,0,-0.3852,1.0700,6.653,-5.350)" d="M0,3.4L3,0V10"/></g>
<g class="tx" transform="translate(871.01,306.85)"><path transform="matrix(1.0165,0,-0.3852,1.0700,-10.577,-5.350)" d="M5.55,4.8A2.6,2.6 0 1 1 0.35,4.8A2.6,2.6 0 1 1 5.55,4.8M0.65,10.3L5.25,-0.7"/><path transform="matrix(1.0165,0,-0.3852,1.0700,-3.156,-5.350)" d="M0,3.4L3,0V10"/><path transform="matrix(1.0165,0,-0.3852,1.0700,1.926,-5.350)" d="M4.3,0C1.8,0.4 0,2.2 0,4.8V7.2C0,9 0.9,10 2.5,10C4.1,10 5,9 5,7.2C5,5.4 4.1,4.4 2.5,4.4C1.3,4.4 0.4,5.1 0,6.2"/><path transform="matrix(1.0165,0,-0.3852,1.0700,9.346,-5.350)" d="M4.8,0H0.9L0.4,4.4C1,3.8 1.8,3.5 2.6,3.5C4.1,3.5 5,4.8 5,6.7C5,8.7 4,10 2.5,10C1.1,10 0.2,9.2 0,8"/></g>
</g>
<g transform="translate(0,667.3)">
<path class="g" d="M337.20,66.70L337.20,114.00"/>
<path class="g" d="M134.60,67.40L134.60,142.50"/>
<path class="g3" d="M546.30,66.70L546.30,146.00"/>
<path class="g" d="M30.50,265.90L134.60,265.90"/>
<path class="g3" d="M350.60,114.00L631.20,114.00"/>
<path class="g3" d="M350.60,279.10L631.20,279.10"/>
<path class="k" d="M134.6,193.4H93.6V214.5H134.6"/>
<path class="k" d="M96.9,193.4V190.4H130.6V193.4"/>
<path class="k" d="M134.6,177.2V142.5H144.5V266H134.6V229.5"/>
<path class="k" d="M134.6,163H131V177.2H134.6A10,10.6 0 0 1 144.5,187.8"/>
<path class="k" d="M134.6,245.1H131V229.5H134.6A10,10.6 0 0 0 144.5,218.9"/>
<path class="kf" d="M134.60,188.70H146.20V219.80H134.60Z"/>
<path class="t" d="M93.6,203.4H125.8M128.6,203.4H130.2M132.8,203.4H139M140.6,203.4H142M143.6,203.4H171.6M174.3,203.4H175.9M178.4,203.4H216.5M219.2,203.4H220.8M223.2,203.4H258"/>
<path class="t" d="M225.2,196.3H252.5M255.3,196.3H256.9M259.5,196.3H296M298.8,196.3H300.4M303,196.3H340M342.8,196.3H344.4M347,196.3H384M386.8,196.3H388.4M391,196.3H428M430.8,196.3H457M461.8,196.3H463.4M468.4,196.3H501M506.5,196.3H508.1M513,196.3H546.3"/>
<path class="k" d="M144.50,171.70L148.50,171.70"/>
<path class="k" d="M144.50,234.70L148.50,234.70"/>
<path class="k" d="M155.7,157.4H148.5V250.3H155.7"/>
<path class="k" d="M155.70,136.60L155.70,252.60"/>
<path class="k" d="M155.7,136.6H217"/>
<path class="k" d="M168.6,136.6L218.7,118.6H261.5"/>
<path class="k" d="M217,118.6V148.6H155.7"/>
<path class="k" d="M217.00,133.30L261.50,133.30"/>
<path class="k" d="M155.70,168.20L261.50,168.20"/>
<path class="kk" d="M155.70,206.70L261.50,206.70"/>
<path class="k" d="M155.70,224.60L255.30,224.60"/>
<path class="k" d="M155.70,228.50L255.30,228.50"/>
<path class="k" d="M155.70,252.60L261.50,252.60"/>
<path class="k" d="M261.50,104.00H278.30V268.30H261.50Z"/>
<path class="k" d="M269.80,104.00L269.80,268.30"/>
<path class="k" d="M261.50,126.70L278.30,126.70"/>
<path class="k" d="M261.50,245.60L278.30,245.60"/>
<path class="k" d="M261.5,105.9H255.3V116.4H261.5"/>
<path class="k" d="M261.5,138H255.3V148.3H261.5"/>
<path class="k" d="M261.5,182H255.3V191.6H261.5"/>
<path class="k" d="M261.5,225.3H255.3V234.4H261.5"/>
<path class="k" d="M261.5,256.5H255.3V266.4H261.5"/>
<path class="k" d="M278.3,104.5H284.5V117.3H278.3"/>
<path class="k" d="M278.30,107.96L284.50,107.96"/>
<path class="k" d="M278.30,113.84L284.50,113.84"/>
<path class="k" d="M278.3,137.2H284.5V149.3H278.3"/>
<path class="k" d="M278.30,140.47L284.50,140.47"/>
<path class="k" d="M278.30,146.03L284.50,146.03"/>
<path class="k" d="M278.3,180.4H284.5V192.2H278.3"/>
<path class="k" d="M278.30,183.59L284.50,183.59"/>
<path class="k" d="M278.30,189.01L284.50,189.01"/>
<path class="k" d="M278.3,223.3H284.5V236.3H278.3"/>
<path class="k" d="M278.30,226.81L284.50,226.81"/>
<path class="k" d="M278.30,232.79L284.50,232.79"/>
<path class="k" d="M278.3,254.4H284.5V267.8H278.3"/>
<path class="k" d="M278.30,258.02L284.50,258.02"/>
<path class="k" d="M278.30,264.18L284.50,264.18"/>
<path class="k" d="M278.3,118.5H301.2V190.5"/>
<path class="k" d="M301.2,203V254.3H278.3"/>
<path class="k" d="M284.5,115.6H296V118.5"/>
<path class="k" d="M278.30,133.20L301.20,133.20"/>
<path class="k" d="M278.30,168.00L301.20,168.00"/>
<path class="k" d="M278.30,206.50L301.20,206.50"/>
<path class="k" d="M278.30,239.90L301.20,239.90"/>
<path class="k" d="M301.20,150.80L314.80,150.80"/>
<path class="k" d="M301.20,154.50L314.80,154.50"/>
<path class="k" d="M301.20,160.60L314.80,160.60"/>
<path class="k" d="M301.20,233.60L314.80,233.60"/>
<path class="k" d="M301.20,240.40L314.80,240.40"/>
<path class="k" d="M301.20,242.20L314.80,242.20"/>
<path class="k" d="M314.80,150.80L314.80,242.20"/>
<path class="k" d="M314.8,191.2H303.5A5.65,5.65 0 0 0 303.5,202.5H314.8"/>
<path class="k" d="M314.80,194.00L325.20,194.00"/>
<path class="k" d="M314.80,199.30L325.20,199.30"/>
<path class="k" d="M314.80,150.80L325.20,133.00"/>
<path class="k" d="M314.80,158.10L325.20,150.80"/>
<path class="k" d="M314.80,242.20L325.20,261.00"/>
<path class="k" d="M314.80,235.80L325.20,242.90"/>
<path class="k" d="M325.20,114.00H350.60V279.10H325.20Z"/>
<path class="k" d="M337.20,114.00L337.20,279.10"/>
<path class="k" d="M350.60,142.00L501.30,142.00"/>
<path class="k" d="M350.60,248.50L501.30,248.50"/>
<path class="k" d="M363.30,132.50H501.30V258.40H363.30Z"/>
<path class="k" d="M430.80,163.70H501.30V227.20H430.80Z"/>
<path class="k" d="M363.30,168.80L430.80,168.80"/>
<path class="k" d="M363.30,181.30L430.80,181.30"/>
<path class="k" d="M363.30,209.40L430.80,209.40"/>
<path class="k" d="M363.30,222.00L430.80,222.00"/>
<path class="kk" d="M363.30,196.00L430.80,196.00"/>
<path class="k" d="M501.3,132.5H532L546.3,146V244.4L532,258.4H501.3"/>
<path class="t" d="M134.60,71.90L546.30,71.90"/>
<path class="a" d="M134.60,71.90L146.60,73.55L146.60,70.25Z"/>
<path class="a" d="M337.20,71.90L325.20,70.25L325.20,73.55Z"/>
<path class="a" d="M337.20,71.90L349.20,73.55L349.20,70.25Z"/>
<path class="a" d="M546.30,71.90L534.30,70.25L534.30,73.55Z"/>
<path class="t" d="M93.60,87.00L134.60,87.00"/>
<path class="a" d="M93.60,87.00L105.60,88.65L105.60,85.35Z"/>
<path class="a" d="M134.60,87.00L122.60,85.35L122.60,88.65Z"/>
<path class="t" d="M93.60,81.30L93.60,193.40"/>
<path class="t" d="M118.00,99.00L183.60,99.00"/>
<path class="a" d="M134.60,99.00L122.60,97.35L122.60,100.65Z"/>
<path class="a" d="M144.40,99.00L156.40,100.65L156.40,97.35Z"/>
<path class="t" d="M144.40,94.30L144.40,142.50"/>
<path class="t" d="M35.40,142.40L35.40,265.90"/>
<path class="a" d="M35.40,142.40L33.75,154.40L37.05,154.40Z"/>
<path class="a" d="M35.40,265.90L37.05,253.90L33.75,253.90Z"/>
<path class="t" d="M30.50,142.40L134.60,142.40"/>
<path class="t" d="M71.30,163.20L71.30,245.20"/>
<path class="a" d="M71.30,163.20L69.65,175.20L72.95,175.20Z"/>
<path class="a" d="M71.30,245.20L72.95,233.20L69.65,233.20Z"/>
<path class="t" d="M66.00,163.20L130.80,163.20"/>
<path class="t" d="M66.00,245.20L130.80,245.20"/>
<path class="t" d="M240.40,118.60L240.40,220.80"/>
<path class="a" d="M240.40,196.30L242.05,184.30L238.75,184.30Z"/>
<path class="a" d="M240.40,204.20L238.75,216.20L242.05,216.20Z"/>
<path class="t" d="M585.20,132.40L585.20,258.40"/>
<path class="a" d="M585.20,132.40L583.55,144.40L586.85,144.40Z"/>
<path class="a" d="M585.20,258.40L586.85,246.40L583.55,246.40Z"/>
<path class="t" d="M488.00,132.40L589.60,132.40"/>
<path class="t" d="M532.00,258.40L589.60,258.40"/>
<path class="t" d="M626.70,114.00L626.70,279.10"/>
<path class="a" d="M626.70,114.00L625.05,126.00L628.35,126.00Z"/>
<path class="a" d="M626.70,279.10L628.35,267.10L625.05,267.10Z"/>
<path class="k" d="M940,169.2H961.8V224.5H940"/>
<circle cx="871.2" cy="190.3" r="79.1" fill="#fff" stroke="none"/>
<path class="k" d="M812.70,137.06A79.1,79.1 0 1 0 929.70,137.06"/>
<path class="g2" d="M871.20,20.50L871.20,122.00"/>
<path class="cg" d="M871.20,122.00L871.20,268.50"/>
<path class="t" d="M762.00,196.50L792.00,196.50"/>
<path class="c" d="M789.00,196.50L949.00,196.50"/>
<path class="k" d="M826.00,143.97A69.3,69.3 0 0 1 916.40,143.97"/>
<path class="k" d="M834.50,153.58L826.00,145.08"/>
<path class="k" d="M828.28,159.80L819.19,150.71"/>
<path class="k" d="M834.50,153.58A4.4,4.4 0 0 1 828.28,159.80"/>
<path class="t" d="M836.34,161.64L820.08,145.38"/>
<path class="k" d="M826.00,157.52V130.1L840.60,116.4"/>
<path class="k" d="M812.70,159.35V125L834.70,103.2"/>
<circle class="kf" cx="849.40" cy="109.10" r="5.00"/>
<circle class="k" cx="849.40" cy="109.10" r="2.40"/>
<circle class="kf" cx="818.60" cy="139.50" r="5.00"/>
<circle class="k" cx="818.60" cy="139.50" r="2.40"/>
<path class="k" d="M850.60,116.40L850.60,130.13"/>
<path class="k" d="M854.00,116.40L854.00,130.13"/>
<path class="k" d="M907.90,153.58L916.40,145.08"/>
<path class="k" d="M914.12,159.80L923.21,150.71"/>
<path class="k" d="M907.90,153.58A4.4,4.4 0 0 0 914.12,159.80"/>
<path class="t" d="M906.06,161.64L922.32,145.38"/>
<path class="k" d="M916.40,157.52V130.1L901.80,116.4"/>
<path class="k" d="M929.70,159.35V125L907.70,103.2"/>
<circle class="kf" cx="893.00" cy="109.10" r="5.00"/>
<circle class="k" cx="893.00" cy="109.10" r="2.40"/>
<circle class="kf" cx="923.80" cy="139.50" r="5.00"/>
<circle class="k" cx="923.80" cy="139.50" r="2.40"/>
<path class="k" d="M888.40,116.40L888.40,130.13"/>
<path class="k" d="M891.80,116.40L891.80,130.13"/>
<path class="k" d="M834.70,103.20L907.70,103.20"/>
<path class="k" d="M840.60,116.40L901.80,116.40"/>
<path class="k" d="M869.60,116.40L869.60,127.40"/>
<path class="k" d="M872.80,116.40L872.80,127.40"/>
<path class="k" d="M819.19,150.71A69.3,69.3 0 1 0 923.21,150.71"/>
<circle class="cd" cx="871.20" cy="196.50" r="56.30"/>
<circle class="k" cx="871.20" cy="196.50" r="46.40"/>
<path class="k" d="M867.9,187V183.7H874.4V187"/>
<circle class="k" cx="871.20" cy="196.50" r="10.10"/>
<circle class="k" cx="871.20" cy="196.50" r="2.80"/>
<path class="k" d="M834.50,239.42L825.41,248.51"/>
<path class="k" d="M828.28,233.20L819.19,242.29"/>
<circle class="k" cx="831.39" cy="236.31" r="4.40"/>
<path class="t" d="M825.89,236.31L836.89,236.31"/>
<path class="t" d="M831.39,230.81L831.39,241.81"/>
<path class="k" d="M914.12,233.20L923.21,242.29"/>
<path class="k" d="M907.90,239.42L916.99,248.51"/>
<path class="k" d="M907.90,239.42A4.4,4.4 0 0 1 914.12,233.20"/>
<path class="t" d="M907.47,232.77L920.10,245.40"/>
<path class="t" d="M871.20,26.20L961.50,26.20"/>
<path class="a" d="M871.20,26.20L883.20,27.85L883.20,24.55Z"/>
<path class="a" d="M961.50,26.20L949.50,24.55L949.50,27.85Z"/>
<path class="t" d="M961.50,21.00L961.50,169.20"/>
<path class="t" d="M812.70,56.60L929.60,56.60"/>
<path class="a" d="M812.70,56.60L824.70,58.25L824.70,54.95Z"/>
<path class="a" d="M929.60,56.60L917.60,54.95L917.60,58.25Z"/>
<path class="g" d="M812.70,50.50L812.70,125.00"/>
<path class="t" d="M929.60,50.50L929.60,125.00"/>
<path class="g" d="M767.00,103.20L767.00,196.50"/>
<path class="a" d="M767.00,103.20L765.35,115.20L768.65,115.20Z"/>
<path class="a" d="M767.00,196.50L768.65,184.50L765.35,184.50Z"/>
<path class="t" d="M762.00,103.20L835.00,103.20"/>
<path class="a" d="M826.60,293.80L814.60,292.15L814.60,295.45Z"/>
<path class="a" d="M834.60,293.80L846.60,295.45L846.60,292.15Z"/>
<path class="g" d="M826.60,240.00L826.60,298.60"/>
<path class="t" d="M834.60,238.00L834.60,298.60"/>
<path class="t" d="M814.80,318.80L927.60,318.80"/>
<path class="a" d="M814.80,318.80L826.80,320.45L826.80,317.15Z"/>
<path class="a" d="M927.60,318.80L915.60,317.15L915.60,320.45Z"/>
<path class="g" d="M814.80,196.50L814.80,323.80"/>
<path class="t" d="M927.60,196.50L927.60,323.80"/>
<path class="t" d="M113.20,125.50L169.50,125.50"/>
<path class="a" d="M130.70,125.50L118.70,123.85L118.70,127.15Z"/>
<path class="a" d="M134.60,125.50L146.60,127.15L146.60,123.85Z"/>
<path class="t" d="M130.70,120.00L130.70,163.00"/>
<path class="g3" d="M810.00,293.80L890.80,293.80"/>
<g class="tx" transform="translate(236.05,59.85)"><path transform="matrix(1.0165,0,-0.3852,1.0700,-8.036,-5.350)" d="M0.1,2.3C0.3,0.8 1.2,0 2.5,0C4,0 5,0.9 5,2.4C5,3.5 4.5,4.3 3.8,5.1L0,10H5"/><path transform="matrix(1.0165,0,-0.3852,1.0700,-0.615,-5.350)" d="M0.3,0H4.9L2.3,4.1C4,4.1 5,5.2 5,7C5,8.9 4,10 2.5,10C1.1,10 0.2,9.2 0,7.9"/><path transform="matrix(1.0165,0,-0.3852,1.0700,6.805,-5.350)" d="M0,0H5L1.6,10"/></g>
<g class="tx" transform="translate(441.41,59.90)"><path transform="matrix(1.0165,0,-0.3852,1.0700,-5.698,-5.350)" d="M0,0V10M5.2,0L0,6.4M2,4L5.4,10"/><path transform="matrix(1.0165,0,-0.3852,1.0700,2.129,-5.350)" d="M0,10V0L3.65,5.2L7.3,0V10"/></g>
<g class="tx" transform="translate(114.34,74.90)"><path transform="matrix(1.0165,0,-0.3852,1.0700,-4.325,-5.350)" d="M4.3,0C1.8,0.4 0,2.2 0,4.8V7.2C0,9 0.9,10 2.5,10C4.1,10 5,9 5,7.2C5,5.4 4.1,4.4 2.5,4.4C1.3,4.4 0.4,5.1 0,6.2"/><path transform="matrix(1.0165,0,-0.3852,1.0700,3.095,-5.350)" d="M2.5,0C0.9,0 0,0.9 0,2.5V7.5C0,9.1 0.9,10 2.5,10C4.1,10 5,9.1 5,7.5V2.5C5,0.9 4.1,0 2.5,0Z"/></g>
<g class="tx" transform="translate(169.41,87.10)"><path transform="matrix(1.0165,0,-0.3852,1.0700,-3.157,-5.350)" d="M0,3.4L3,0V10"/><path transform="matrix(1.0165,0,-0.3852,1.0700,1.926,-5.350)" d="M0.3,0H4.9L2.3,4.1C4,4.1 5,5.2 5,7C5,8.9 4,10 2.5,10C1.1,10 0.2,9.2 0,7.9"/></g>
<g class="tx" transform="translate(157.19,113.50)"><path transform="matrix(1.0165,0,-0.3852,1.0700,-0.615,-5.350)" d="M3.6,0L0,7H5M4,3.8V10"/></g>
<g class="tx" transform="translate(228.25,128.25) rotate(-90)"><path transform="matrix(1.1385,0,-0.4314,1.1984,-0.689,-5.992)" d="M4.8,0H0.9L0.4,4.4C1,3.8 1.8,3.5 2.6,3.5C4.1,3.5 5,4.8 5,6.7C5,8.7 4,10 2.5,10C1.1,10 0.2,9.2 0,8"/></g>
<g class="tx" transform="translate(23.35,203.88) rotate(-90)"><path transform="matrix(1.0165,0,-0.3852,1.0700,-11.746,-5.350)" d="M5.55,4.8A2.6,2.6 0 1 1 0.35,4.8A2.6,2.6 0 1 1 5.55,4.8M0.65,10.3L5.25,-0.7"/><path transform="matrix(1.0165,0,-0.3852,1.0700,-4.325,-5.350)" d="M0.1,2.3C0.3,0.8 1.2,0 2.5,0C4,0 5,0.9 5,2.4C5,3.5 4.5,4.3 3.8,5.1L0,10H5"/><path transform="matrix(1.0165,0,-0.3852,1.0700,3.095,-5.350)" d="M4.8,0H0.9L0.4,4.4C1,3.8 1.8,3.5 2.6,3.5C4.1,3.5 5,4.8 5,6.7C5,8.7 4,10 2.5,10C1.1,10 0.2,9.2 0,8"/><path transform="matrix(1.0165,0,-0.3852,1.0700,10.515,-5.350)" d="M2.5,0C0.9,0 0,0.9 0,2.5V7.5C0,9.1 0.9,10 2.5,10C4.1,10 5,9.1 5,7.5V2.5C5,0.9 4.1,0 2.5,0Z"/></g>
<g class="tx" transform="translate(59.20,203.89) rotate(-90)"><path transform="matrix(1.0165,0,-0.3852,1.0700,-10.577,-5.350)" d="M5.55,4.8A2.6,2.6 0 1 1 0.35,4.8A2.6,2.6 0 1 1 5.55,4.8M0.65,10.3L5.25,-0.7"/><path transform="matrix(1.0165,0,-0.3852,1.0700,-3.156,-5.350)" d="M0,3.4L3,0V10"/><path transform="matrix(1.0165,0,-0.3852,1.0700,1.926,-5.350)" d="M2.5,4.6C1.1,4.6 0.4,3.7 0.4,2.3C0.4,0.9 1.2,0 2.5,0C3.8,0 4.6,0.9 4.6,2.3C4.6,3.7 3.9,4.6 2.5,4.6C0.9,4.6 0,5.7 0,7.3C0,8.9 0.9,10 2.5,10C4.1,10 5,8.9 5,7.3C5,5.7 4.1,4.6 2.5,4.6"/><path transform="matrix(1.0165,0,-0.3852,1.0700,9.346,-5.350)" d="M2.5,0C0.9,0 0,0.9 0,2.5V7.5C0,9.1 0.9,10 2.5,10C4.1,10 5,9.1 5,7.5V2.5C5,0.9 4.1,0 2.5,0Z"/></g>
<g class="tx" transform="translate(573.00,193.68) rotate(-90)"><path transform="matrix(1.0165,0,-0.3852,1.0700,-4.732,-5.350)" d="M0,10L3.4,0L5.8,10M1.1,6.9H5.0"/><path transform="matrix(1.0165,0,-0.3852,1.0700,3.502,-5.350)" d="M5,2.2C4.8,0.8 3.9,0 2.6,0C0.9,0 0,1.2 0,3V7C0,8.8 0.9,10 2.6,10C3.9,10 4.8,9.2 5,7.8"/></g>
<g class="tx" transform="translate(613.85,196.62) rotate(-90)"><path transform="matrix(1.0165,0,-0.3852,1.0700,-0.819,-5.350)" d="M0,10V0H3C4.6,0 5.4,1 5.4,2.7C5.4,4.4 4.6,5.4 3,5.4H0"/></g>
<g class="tx" transform="translate(916.74,15.25)"><path transform="matrix(1.0165,0,-0.3852,1.0700,-5.037,-5.350)" d="M0,10L3.4,0L5.8,10M1.1,6.9H5.0"/><path transform="matrix(1.0165,0,-0.3852,1.0700,3.197,-5.350)" d="M0,0V10H2.6C4.5,10 5.6,8.8 5.6,7V3C5.6,1.2 4.5,0 2.6,0Z"/></g>
<g class="tx" transform="translate(871.26,44.05)"><path transform="matrix(1.0165,0,-0.3852,1.0700,-6.867,-5.350)" d="M0,3.4L3,0V10"/><path transform="matrix(1.0165,0,-0.3852,1.0700,-1.784,-5.350)" d="M3.6,0L0,7H5M4,3.8V10"/><path transform="matrix(1.0165,0,-0.3852,1.0700,5.636,-5.350)" d="M2.5,4.6C1.1,4.6 0.4,3.7 0.4,2.3C0.4,0.9 1.2,0 2.5,0C3.8,0 4.6,0.9 4.6,2.3C4.6,3.7 3.9,4.6 2.5,4.6C0.9,4.6 0,5.7 0,7.3C0,8.9 0.9,10 2.5,10C4.1,10 5,8.9 5,7.3C5,5.7 4.1,4.6 2.5,4.6"/></g>
<g class="tx" transform="translate(753.49,149.64) rotate(-90)"><path transform="matrix(1.0165,0,-0.3852,1.0700,-10.323,-5.350)" d="M0,3.4L3,0V10"/><path transform="matrix(1.0165,0,-0.3852,1.0700,-5.240,-5.350)" d="M0,3.4L3,0V10"/><path transform="matrix(1.0165,0,-0.3852,1.0700,-0.158,-5.350)" d="M0.7,10C3.2,9.6 5,7.8 5,5.2V2.8C5,1 4.1,0 2.5,0C0.9,0 0,1 0,2.8C0,4.6 0.9,5.6 2.5,5.6C3.7,5.6 4.6,4.9 5,3.8"/><path transform="matrix(1.0165,0,-0.3852,1.0700,5.941,-5.350)" d="M0.9,9.3V10.2L0.1,12"/><path transform="matrix(1.0165,0,-0.3852,1.0700,9.092,-5.350)" d="M4.8,0H0.9L0.4,4.4C1,3.8 1.8,3.5 2.6,3.5C4.1,3.5 5,4.8 5,6.7C5,8.7 4,10 2.5,10C1.1,10 0.2,9.2 0,8"/></g>
<g class="tx" transform="translate(869.10,281.61)"><path transform="matrix(1.0165,0,-0.3852,1.0700,-11.492,-5.350)" d="M5.55,4.8A2.6,2.6 0 1 1 0.35,4.8A2.6,2.6 0 1 1 5.55,4.8M0.65,10.3L5.25,-0.7"/><path transform="matrix(1.0165,0,-0.3852,1.0700,-4.071,-5.350)" d="M0,3.4L3,0V10"/><path transform="matrix(1.0165,0,-0.3852,1.0700,1.011,-5.350)" d="M0.3,0H4.9L2.3,4.1C4,4.1 5,5.2 5,7C5,8.9 4,10 2.5,10C1.1,10 0.2,9.2 0,7.9"/><path transform="matrix(1.0165,0,-0.3852,1.0700,7.110,-5.350)" d="M0.9,9.3V10.2L0.1,12"/><path transform="matrix(1.0165,0,-0.3852,1.0700,10.261,-5.350)" d="M4.8,0H0.9L0.4,4.4C1,3.8 1.8,3.5 2.6,3.5C4.1,3.5 5,4.8 5,6.7C5,8.7 4,10 2.5,10C1.1,10 0.2,9.2 0,8"/></g>
<g class="tx" transform="translate(871.01,306.85)"><path transform="matrix(1.0165,0,-0.3852,1.0700,-10.577,-5.350)" d="M5.55,4.8A2.6,2.6 0 1 1 0.35,4.8A2.6,2.6 0 1 1 5.55,4.8M0.65,10.3L5.25,-0.7"/><path transform="matrix(1.0165,0,-0.3852,1.0700,-3.156,-5.350)" d="M0.1,2.3C0.3,0.8 1.2,0 2.5,0C4,0 5,0.9 5,2.4C5,3.5 4.5,4.3 3.8,5.1L0,10H5"/><path transform="matrix(1.0165,0,-0.3852,1.0700,4.264,-5.350)" d="M0,3.4L3,0V10"/><path transform="matrix(1.0165,0,-0.3852,1.0700,9.346,-5.350)" d="M4.8,0H0.9L0.4,4.4C1,3.8 1.8,3.5 2.6,3.5C4.1,3.5 5,4.8 5,6.7C5,8.7 4,10 2.5,10C1.1,10 0.2,9.2 0,8"/></g>
</g>
</svg></body></html>
